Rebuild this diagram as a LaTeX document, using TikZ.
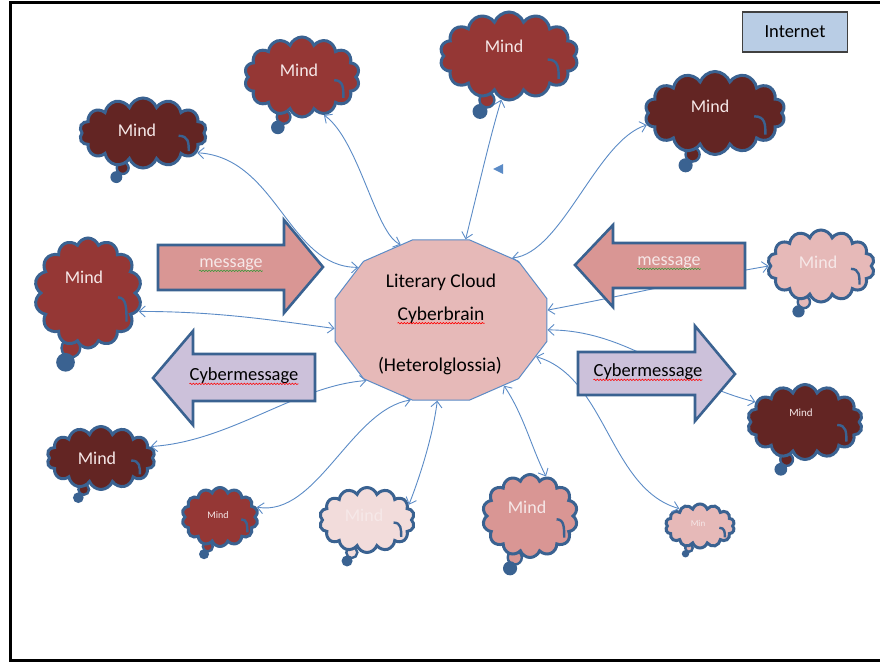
\documentclass[tikz,border=0pt]{standalone}
\usepackage{fontspec}
\setmainfont{Carlito}
\usepackage{tikz}
\usetikzlibrary{arrows.meta,shapes.geometric,shapes.symbols,decorations.pathmorphing}
\definecolor{cedge}{HTML}{3A6291}
\definecolor{linkc}{HTML}{5B8BC6}
\definecolor{darkm}{HTML}{632523}
\definecolor{midm}{HTML}{953735}
\definecolor{lightm}{HTML}{E6B9B8}
\definecolor{palem}{HTML}{F2DCDB}
\definecolor{rosem}{HTML}{D99694}
\definecolor{mindtxt}{HTML}{F6E8E8}
\definecolor{hubc}{HTML}{E6B9B8}
\definecolor{cyberc}{HTML}{CCC1DA}
\definecolor{netc}{HTML}{B9CDE5}
\definecolor{spellg}{HTML}{3C9A3C}
\tikzset{
  link/.style={linkc,line width=0.9pt,{Straight Barb[length=6pt,width=11pt]}-{Straight Barb[length=6pt,width=11pt]}},
  cloudy/.style={cloud,cloud puffs=14,cloud puff arc=140,cloud ignores aspect,draw=cedge,line width=3pt,inner sep=0pt},
  mindtext/.style={text=mindtxt,inner sep=0pt,font=\fontsize{18}{22}\selectfont},
  bigtext/.style={inner sep=0pt,font=\fontsize{19.5}{23}\selectfont},
  blockar/.style={draw=cedge,line width=2.6pt,line join=miter},
  hub/.style={regular polygon,regular polygon sides=12,minimum size=166pt,inner sep=0pt,xscale=1.32,draw=linkc,fill=hubc,line width=1pt},
  netbox/.style={draw=black!75,line width=1.5pt,fill=netc,minimum width=105pt,minimum height=40pt,font=\fontsize{18.5}{22}\selectfont},
  squig/.style={decorate,decoration={snake,segment length=3pt,amplitude=0.7pt},line width=0.6pt}
}
% thought cloud: name, x, y, width, height, fill
\newcommand{\mind}[6]{%
  \filldraw[fill=#6,draw=cedge,line width=2.4pt] (#2-0.16*#4,#3+0.5*#5) circle[radius=0.085*#5];
  \fill[cedge] (#2-0.21*#4,#3+0.63*#5) circle[radius=0.085*#5];
  \node[cloudy,fill=#6,minimum width=#4,minimum height=#5] (#1) at (#2,#3) {};
  \draw[cedge,line width=2.4pt] (#2+0.28*#4,#3+0.04*#5) .. controls +(0.08*#4,0) and +(0,-0.12*#5) .. (#2+0.36*#4,#3+0.26*#5);
}

\begin{document}
\begin{tikzpicture}[x=1pt,y=-1pt]
\useasboundingbox (0,0) rectangle (880,663);
\clip (0,0) rectangle (880,663);
\draw[line width=3pt] (10,3) rectangle (895,660);

% centre
\node[hub] (hub) at (441,320) {};

% minds
\mind{m1}{143}{133}{127}{70}{darkm}
\mind{m2}{302}{77}{115}{80}{midm}
\mind{m3}{509}{56}{138}{88}{midm}
\mind{m4}{715}{113}{140}{83}{darkm}
\mind{m5}{88}{293}{107}{110}{midm}
\mind{m6}{821}{266}{107}{72}{lightm}
\mind{m7}{101}{458}{108}{63}{darkm}
\mind{m8}{220}{517}{76}{59}{midm}
\mind{m9}{367}{520}{95}{65}{palem}
\mind{m10}{530}{516}{95}{83}{rosem}
\mind{m11}{805}{422}{115}{75}{darkm}
\mind{m12}{700}{526}{69}{44}{lightm}

% links
\draw[link] (m1.-20) .. controls +(80,5) and +(-70,0) .. (hub.140);
\draw[link] (m2.-60) .. controls +(35,25) and +(-25,-10) .. (hub.112);
\draw[link] (m3.-100) .. controls +(-12,40) and +(15,-60) .. (hub.77);
\draw[link] (m4.190) .. controls +(-50,15) and +(50,-5) .. (hub.49);
\draw[link] (m5.-20) .. controls +(80,0) and +(-60,-8) .. (hub.186);
\draw[link] (hub.7) .. controls +(80,-15) and +(-60,10) .. (m6.180);
\draw[link] (hub.-7) .. controls +(80,0) and +(-80,-20) .. (m11.158);
\draw[link] (hub.-27) .. controls +(70,20) and +(-70,-20) .. (m12.140);
\draw[link] (hub.-54) .. controls +(20,30) and +(-15,-30) .. (m10.68);
\draw[link] (hub.-92) .. controls +(-5,40) and +(8,-20) .. (m9.20);
\draw[link] (hub.-106) .. controls +(-60,10) and +(60,10) .. (m8.15);
\draw[link] (m7.13) .. controls +(80,-5) and +(-70,5) .. (hub.227);

% block arrows
\draw[blockar,fill=rosem] (158,245) -- (284,245) -- (284,220) -- (323,267) -- (284,313) -- (284,290) -- (158,290) -- cycle;
\draw[blockar,fill=rosem] (745,243) -- (613,243) -- (613,225) -- (575,265) -- (613,307) -- (613,288) -- (745,288) -- cycle;
\draw[blockar,fill=cyberc] (315,354) -- (193,354) -- (193,331) -- (153,378) -- (193,425) -- (193,401) -- (315,401) -- cycle;
\draw[blockar,fill=cyberc] (578,352) -- (695,352) -- (695,326) -- (735,374) -- (695,421) -- (695,395) -- (578,395) -- cycle;
\fill[linkc] (493,169) -- (503,164) -- (503,174) -- cycle;

% texts
\node[bigtext] (lit) at (441,282) {Literary Cloud};
\node[bigtext] (cb) at (441,315) {Cyberbrain};
\node[bigtext] (het) at (440,366) {(Heterolglossia)};
\node[mindtext] (msg1) at (231,265) {message};
\node[mindtext] (msg2) at (669,263) {message};
\node[bigtext,font=\fontsize{18.5}{22}\selectfont] (cyb1) at (244,376) {Cybermessage};
\node[bigtext,font=\fontsize{18.5}{22}\selectfont] (cyb2) at (648,372) {Cybermessage};
\draw[squig,red] ([yshift=-3pt]cb.base west) -- ([yshift=-3pt]cb.base east);
\draw[squig,spellg] ([yshift=-3pt]msg1.base west) -- ([yshift=-3pt]msg1.base east);
\draw[squig,spellg] ([yshift=-3pt]msg2.base west) -- ([yshift=-3pt]msg2.base east);
\draw[squig,red] ([yshift=-3pt]cyb1.base west) -- ([yshift=-3pt]cyb1.base east);
\draw[squig,red] ([yshift=-3pt]cyb2.base west) -- ([yshift=-3pt]cyb2.base east);

\node[mindtext] (t1) at (137,130) {Mind};
\node[mindtext] (t2) at (299,70) {Mind};
\node[mindtext] (t3) at (504,46) {Mind};
\node[mindtext] (t4) at (710,106) {Mind};
\node[mindtext] (t5) at (84,277) {Mind};
\node[mindtext] (t6) at (818,262) {Mind};
\node[mindtext] (t7) at (97,458) {Mind};
\node[mindtext,font=\fontsize{10}{12}\selectfont] (t8) at (218,515) {Mind};
\node[mindtext] (t9) at (364,515) {Mind};
\node[mindtext] (t10) at (527,507) {Mind};
\node[mindtext,font=\fontsize{11}{13}\selectfont] (t11) at (801,413) {Mind};
\node[mindtext,font=\fontsize{9}{11}\selectfont] (t12) at (698,523) {Min};

\node[netbox] (net) at (795,32) {Internet};
\end{tikzpicture}
\end{document}
